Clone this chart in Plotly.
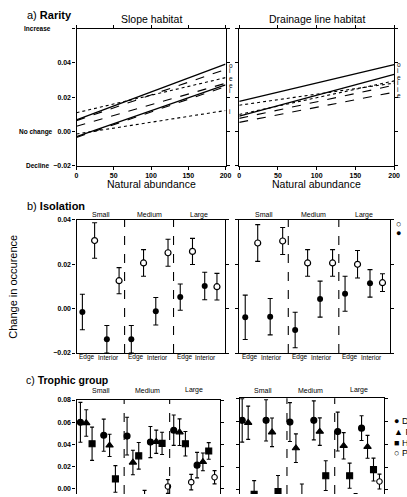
import plotly.graph_objects as go

W, H = 407, 497
def fx(p): return p / W
def fy(p): return 1 - p / H

# ---------------- a) Rarity : fitted lines (occurrence change at abundance 0 and 200)
abund = [0, 200]
slope_start = [0.0067, 0.0063, 0.0109, 0.0030, -0.0030, -0.0035, -0.0015]
slope_end = [0.0393, 0.0362, 0.0314, 0.0281, 0.0272, 0.0262, 0.0122]
slope_dash = ['solid', 'dash', 'dot', 'dash', 'solid', 'dash', 'dot']
slope_tags = ['o', 'i', 'e', 'e', 'i', 'i']
slope_tag_y = [0.0387, 0.0354, 0.0309, 0.0270, 0.0240, 0.0114]

drain_start = [0.0175, 0.0090, 0.0153, 0.0099, 0.0076, 0.0053]
drain_end = [0.0390, 0.0333, 0.0282, 0.0295, 0.0270, 0.0229]
drain_dash = ['solid', 'solid', 'dot', 'dot', 'dash', 'dash']
drain_tags = ['o', 'i', 'e', 'i', 'i', 'e']
drain_tag_y = [0.0390, 0.0354, 0.0314, 0.0286, 0.0247, 0.0210]

# ---------------- b) Isolation (order: Small-Edge, Small-Interior, Medium-Edge, Medium-Interior, Large-Edge, Large-Interior)
sizes = ['Small', 'Medium', 'Large']
positions = ['Edge', 'Interior']
iso_slope_filled = [-0.0015, -0.0138, -0.0138, -0.0012, 0.0052, 0.0102]
iso_slope_filled_err = [0.0080, 0.0062, 0.0062, 0.0062, 0.0059, 0.0062]
iso_slope_open = [0.0307, 0.0126, 0.0206, 0.0252, 0.0258, 0.0099]
iso_slope_open_err = [0.0080, 0.0059, 0.0060, 0.0061, 0.0059, 0.0060]
iso_drain_filled = [-0.0039, -0.0036, -0.0096, 0.0043, 0.0067, 0.0114]
iso_drain_filled_err = [0.0100, 0.0082, 0.0080, 0.0081, 0.0079, 0.0062]
iso_drain_open = [0.0296, 0.0305, 0.0206, 0.0206, 0.0200, 0.0117]
iso_drain_open_err = [0.0083, 0.0061, 0.0060, 0.0060, 0.0062, 0.0040]

# ---------------- c) Trophic group
trophic = ['D', 'F', 'H', 'P']
troph_slope = {
    'D': [0.0599, 0.0483, 0.0475, 0.0421, 0.0528, 0.0213],
    'F': [0.0593, 0.0391, 0.0237, 0.0424, 0.0510, 0.0243],
    'H': [0.0406, 0.0089, 0.0297, 0.0409, 0.0406, 0.0341],
    'P': [-0.0300, -0.0300, -0.0120, 0.0021, 0.0060, 0.0104],
}
troph_slope_err = {
    'D': [0.0180, 0.0145, 0.0170, 0.0140, 0.0137, 0.0115],
    'F': [0.0120, 0.0100, 0.0110, 0.0105, 0.0120, 0.0080],
    'H': [0.0150, 0.0120, 0.0120, 0.0100, 0.0110, 0.0075],
    'P': [0.0080, 0.0080, 0.0106, 0.0062, 0.0070, 0.0060],
}
troph_drain = {
    'D': [0.0608, 0.0608, 0.0593, 0.0608, 0.0510, 0.0540],
    'F': [0.0587, 0.0504, 0.0365, 0.0510, 0.0386, 0.0377],
    'H': [-0.0038, -0.0014, -0.0080, 0.0125, 0.0125, 0.0178],
    'P': [-0.0300, -0.0300, -0.0300, -0.0300, -0.0120, 0.0074],
}
troph_drain_err = {
    'D': [0.0190, 0.0180, 0.0170, 0.0170, 0.0170, 0.0108],
    'F': [0.0145, 0.0125, 0.0125, 0.0120, 0.0115, 0.0100],
    'H': [0.0120, 0.0140, 0.0133, 0.0130, 0.0110, 0.0100],
    'P': [0.0080, 0.0080, 0.0080, 0.0080, 0.0090, 0.0065],
}

fig = go.Figure()
BLACK = 'black'

# ---- a) lines
for s, e, d in zip(slope_start, slope_end, slope_dash):
    fig.add_trace(go.Scatter(x=abund, y=[s, e], mode='lines', xaxis='x', yaxis='y',
                             line=dict(color=BLACK, width=1.3 if d == 'solid' else 1.1, dash=d),
                             showlegend=False, hoverinfo='skip'))
for s, e, d in zip(drain_start, drain_end, drain_dash):
    fig.add_trace(go.Scatter(x=abund, y=[s, e], mode='lines', xaxis='x2', yaxis='y2',
                             line=dict(color=BLACK, width=1.3 if d == 'solid' else 1.1, dash=d),
                             showlegend=False, hoverinfo='skip'))

# ---- b) points
def iso_x(offset):
    return [4 * i + 2 * j + offset for i in range(3) for j in range(2)]

def eb(arr, w):
    return dict(type='data', array=arr, color=BLACK, thickness=1.1, width=w)

for ax, fl, fle, op, ope in [('3', iso_slope_filled, iso_slope_filled_err, iso_slope_open, iso_slope_open_err),
                             ('4', iso_drain_filled, iso_drain_filled_err, iso_drain_open, iso_drain_open_err)]:
    fig.add_trace(go.Scatter(x=iso_x(0), y=fl, mode='markers', xaxis='x' + ax, yaxis='y' + ax,
                             marker=dict(symbol='circle', size=6, color=BLACK),
                             error_y=eb(fle, 2.5), showlegend=False))
    fig.add_trace(go.Scatter(x=iso_x(1), y=op, mode='markers', xaxis='x' + ax, yaxis='y' + ax,
                             marker=dict(symbol='circle', size=6, color='white', line=dict(color=BLACK, width=1.2)),
                             error_y=eb(ope, 2.5), showlegend=False))

# ---- c) points
symbols = {'D': ('circle', BLACK, 6), 'F': ('triangle-up', BLACK, 6.5),
           'H': ('square', BLACK, 6), 'P': ('circle', 'white', 5.5)}
for ax, vals, errs in [('5', troph_slope, troph_slope_err), ('6', troph_drain, troph_drain_err)]:
    for gi, g in enumerate(trophic):
        xs = [8 * i + 4 * j + gi for i in range(3) for j in range(2)]
        sym, col, sz = symbols[g]
        fig.add_trace(go.Scatter(x=xs, y=vals[g], mode='markers', xaxis='x' + ax, yaxis='y' + ax,
                                 marker=dict(symbol=sym, size=sz, color=col, line=dict(color=BLACK, width=1.1)),
                                 error_y=eb(errs[g], 2), showlegend=False, cliponaxis=True))

# ---- axes
FF = 'Liberation Sans, Arial'
def ybase(**kw):
    d = dict(showline=True, linecolor=BLACK, linewidth=1.2, ticks='outside', ticklen=3,
             tickcolor=BLACK, tickwidth=1, mirror='ticks', showgrid=False, zeroline=False,
             tickfont=dict(family=FF, size=7, color=BLACK, weight='bold'))
    d.update(kw)
    return d

ya_vals = [-0.02, 0.0, 0.02, 0.04, 0.06]
ya_text = ['\u22120.02', '0.00', '0.02', '0.04', '']
layout = dict(
    width=W, height=H, margin=dict(l=0, r=0, t=0, b=0), plot_bgcolor='white', paper_bgcolor='white',
    showlegend=False,
    xaxis=ybase(domain=[fx(76), fx(228)], range=[0, 200], anchor='y', tickvals=[0, 50, 100, 150, 200]),
    yaxis=ybase(domain=[fy(164), fy(25)], range=[-0.02, 0.06], anchor='x', tickvals=ya_vals, ticktext=ya_text),
    xaxis2=ybase(domain=[fx(242), fx(400)], range=[0, 200], anchor='y2', tickvals=[0, 50, 100, 150, 200]),
    yaxis2=ybase(domain=[fy(164), fy(25)], range=[-0.02, 0.06], anchor='x2', tickvals=ya_vals, showticklabels=False),
    xaxis3=ybase(domain=[fx(76), fx(227)], range=[-0.48, 11.62], anchor='y3', ticks='', showticklabels=False, mirror=True),
    yaxis3=ybase(domain=[fy(354), fy(219)], range=[-0.02, 0.04], anchor='x3', tickvals=[-0.02, 0, 0.02, 0.04],
                 ticktext=['\u22120.02', '0.00', '0.02', '0.04']),
    xaxis4=ybase(domain=[fx(242), fx(396)], range=[-0.48, 11.62], anchor='y4', ticks='', showticklabels=False, mirror=True),
    yaxis4=ybase(domain=[fy(354), fy(219)], range=[-0.02, 0.04], anchor='x4', tickvals=[-0.02, 0, 0.02, 0.04],
                 showticklabels=False),
    xaxis5=ybase(domain=[fx(76), fx(222)], range=[-0.67, 23.87], anchor='y5', side='top', ticks='',
                 showticklabels=False, mirror=False),
    yaxis5=ybase(domain=[0, fy(401.7)], range=[-0.0047, 0.08], anchor='x5', tickvals=[0, 0.02, 0.04, 0.06, 0.08],
                 ticktext=['0.00', '0.02', '0.04', '0.06', '0.08']),
    xaxis6=ybase(domain=[fx(242.7), fx(389.3)], range=[-0.38, 23.7], anchor='y6', side='top', ticks='',
                 showticklabels=False, mirror=False),
    yaxis6=ybase(domain=[0, fy(400)], range=[-0.0035, 0.08], anchor='x6', tickvals=[0, 0.02, 0.04, 0.06, 0.08],
                 showticklabels=False),
)
fig.update_layout(**layout)

# dashed separators
shapes = []
for ax, seps in [('3', [3.45, 7.45]), ('4', [3.45, 7.5]), ('5', [7.5, 15.3]), ('6', [7.5, 15.5])]:
    for s in seps:
        shapes.append(dict(type='line', xref='x' + ax, yref='y' + ax + ' domain', x0=s, x1=s, y0=0, y1=1,
                           line=dict(color=BLACK, width=1.1, dash='dash')))
fig.update_layout(shapes=shapes)

ann = []
def txt(x, y, t, size, xanchor='center', yanchor='middle', **kw):
    a = dict(x=x, y=y, xref='paper', yref='paper', text=t, showarrow=False, xanchor=xanchor, yanchor=yanchor,
             font=dict(family=FF, size=size, color=BLACK))
    a.update(kw)
    ann.append(a)

# section titles
txt(fx(23), fy(11), 'a) <b>Rarity</b>', 11, xanchor='left')
txt(fx(23), fy(205), 'b) <b>Isolation</b>', 11, xanchor='left')
txt(fx(23), fy(381.5), 'c) <b>Trophic group</b>', 10.5, xanchor='left', borderpad=0)
txt(fx(152), fy(15), 'Slope habitat', 10.5)
txt(fx(321), fy(15), 'Drainage line habitat', 10.5)
txt(fx(152), fy(183), 'Natural abundance', 10.5)
txt(fx(321), fy(183), 'Natural abundance', 10.5)
txt(fx(36), fy(25), '<b>Increase</b>', 6.5)
txt(fx(35), fy(130), '<b>No change</b>', 6.5)
txt(fx(37), fy(164), '<b>Decline</b>', 6.5)
txt(fx(11), fy(287), 'Change in occurence', 11, textangle=-90)

# line tags at panel right edges
for t, y in zip(slope_tags, slope_tag_y):
    ann.append(dict(x=1, y=y, xref='x domain', yref='y', text=t, showarrow=False, xanchor='left', xshift=1,
                    font=dict(family=FF, size=6.5, color=BLACK)))
for t, y in zip(drain_tags, drain_tag_y):
    ann.append(dict(x=1, y=y, xref='x2 domain', yref='y2', text=t, showarrow=False, xanchor='left', xshift=1,
                    font=dict(family=FF, size=6.5, color=BLACK)))

# size group labels and edge/interior labels
for ax in ['3', '4']:
    for i, s in enumerate(sizes):
        ann.append(dict(x=4 * i + 1.5, y=fy(214), xref='x' + ax, yref='paper', text=s, showarrow=False,
                        font=dict(family=FF, size=7, color=BLACK)))
        for j, p in enumerate(positions):
            ann.append(dict(x=4 * i + (0.4 if j == 0 else 2.1), y=fy(364), xref='x' + ax, yref='paper', text=p,
                            showarrow=False, font=dict(family=FF, size=6.5, color=BLACK)))
for ax, ytop in [('5', 397), ('6', 396.5)]:
    for i, s in enumerate(sizes):
        ann.append(dict(x=8 * i + 3.5, y=fy(ytop), xref='x' + ax, yref='paper', text=s, showarrow=False,
                        borderpad=0, font=dict(family=FF, size=7, color=BLACK)))

# legends (cut by the page edge, as in the reference)
txt(fx(400), fy(223), '\u25cb', 9, xanchor='left')
txt(fx(400), fy(232), '\u25cf', 9, xanchor='left')
for lbl, sym, yy in zip(trophic, ['\u25cf', '\u25b2', '\u25a0', '\u25cb'], [423, 434, 445, 455]):
    txt(fx(397.5), fy(yy), sym + ' ' + lbl, 9, xanchor='left')

fig.update_layout(annotations=ann)
fig.write_html('out.html')
